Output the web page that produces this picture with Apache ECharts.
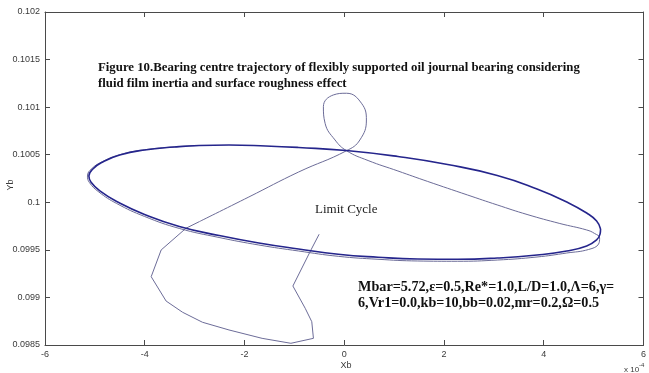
<!DOCTYPE html>
<html>
<head>
<meta charset="utf-8">
<script src="https://cdn.jsdelivr.net/npm/echarts@6/dist/echarts.min.js"></script>
<style>
  html, body { margin: 0; padding: 0; background: #ffffff; }
  #chart { width: 649px; height: 373px; }
</style>
</head>
<body>
<div id="chart"></div>
<script>
// Axis ticks (Xb in units of 1e-4)
const xTickValues = [-6, -4, -2, 0, 2, 4, 6];
const yTickLabels = ['0.0985', '0.099', '0.0995', '0.1', '0.1005', '0.101', '0.1015', '0.102'];

// Converged orbit (limit cycle) of the bearing centre
const cycleX = [5.139, 5.130, 5.060, 4.861, 4.462, 3.865, 3.068, 2.271, 1.474, 0.677, -0.120,
  -0.916, -1.713, -2.510, -3.307, -4.004, -4.542, -4.900, -5.080, -5.120, -5.040, -4.841, -4.502,
  -4.004, -3.406, -2.908, -2.311, -1.574, -0.916, 0.040, 1.076, 2.072, 3.068, 3.865, 4.462,
  4.861, 5.060, 5.139];
const cycleY = [0.099719, 0.099667, 0.099604, 0.099541, 0.099488, 0.099446, 0.099414, 0.099401,
  0.099404, 0.099422, 0.099453, 0.099509, 0.099572, 0.099651, 0.099746, 0.099872, 0.100003,
  0.100119, 0.100213, 0.100276, 0.100350, 0.100424, 0.100497, 0.100550, 0.100581, 0.100597,
  0.100602, 0.100592, 0.100576, 0.100544, 0.100481, 0.100397, 0.100282, 0.100140, 0.100003,
  0.099887, 0.099803, 0.099719];

// Transient path from the initial position until it settles on the orbit
const pathX = [-0.504, -0.667, -1.030, -0.783, -0.651, -0.618, -1.070, -1.647, -2.311, -2.843,
  -3.241, -3.572, -3.871, -3.671, -3.173, -2.908, -1.912, -0.916, 0.046, 0.313, 0.444, 0.345,
  0.046, -0.219, -0.418, -0.384, -0.185, 0.046, 0.478, 1.076, 1.673, 2.470, 3.068, 3.665, 4.323,
  4.861, 5.020, 5.120, 5.100, 4.900, 4.462, 3.865, 3.068, 2.271, 1.474, 0.677, -0.120, -0.916,
  -1.713, -2.510, -3.307, -4.004, -4.562, -4.920, -5.110, -5.149, -5.060, -4.841, -4.502, -4.004,
  -3.406, -2.908];
const pathY = [0.099664, 0.099499, 0.099120, 0.098886, 0.098745, 0.098570, 0.098518, 0.098570,
  0.098658, 0.098739, 0.098844, 0.098962, 0.099218, 0.099499, 0.099727, 0.099796, 0.100056,
  0.100318, 0.100542, 0.100655, 0.100865, 0.101041, 0.101146, 0.101128, 0.101005, 0.100830,
  0.100655, 0.100542, 0.100439, 0.100329, 0.100219, 0.100077, 0.099972, 0.099872, 0.099777,
  0.099709, 0.099672, 0.099625, 0.099562, 0.099504, 0.099467, 0.099425, 0.099393, 0.099380,
  0.099383, 0.099401, 0.099432, 0.099488, 0.099551, 0.099630, 0.099725, 0.099851, 0.099987,
  0.100108, 0.100208, 0.100276, 0.100355, 0.100429, 0.100500, 0.100552, 0.100582, 0.100597];

// The early part of the transient is coarsely sampled (straight segments)
const coarseEnd = 15;

const zip = (xs, ys) => xs.map((x, i) => [x, ys[i]]);
const cycleData = zip(cycleX, cycleY);
const pathData = zip(pathX, pathY);

const axisColor = '#4a4a4a';
const labelColor = '#3a3a3a';
const sansFont = '"Liberation Sans", Arial, sans-serif';
const serifFont = '"Liberation Serif", "Times New Roman", serif';

const chart = echarts.init(document.getElementById('chart'), null, { renderer: 'canvas' });

const xBase = {
  type: 'value', min: -6, max: 6, interval: 2,
  splitLine: { show: false },
  axisLine: { show: true, onZero: false, lineStyle: { color: axisColor, width: 1 } },
  axisTick: { show: true, inside: true, length: 5, lineStyle: { color: axisColor } }
};
const yBase = {
  type: 'value', min: 0.0985, max: 0.102, interval: 0.0005,
  splitLine: { show: false },
  axisLine: { show: true, onZero: false, lineStyle: { color: axisColor, width: 1 } },
  axisTick: { show: true, inside: true, length: 5, lineStyle: { color: axisColor } }
};

chart.setOption({
  animation: false,
  backgroundColor: '#ffffff',
  grid: { left: 45, right: 2, top: 12, bottom: 28 },
  xAxis: [
    Object.assign({}, xBase, {
      position: 'bottom',
      axisLabel: {
        color: labelColor, fontSize: 9, fontFamily: sansFont, margin: 5,
        formatter: v => (xTickValues.indexOf(Math.round(v)) >= 0 ? String(Math.round(v)) : '')
      }
    }),
    Object.assign({}, xBase, { position: 'top', axisLabel: { show: false } })
  ],
  yAxis: [
    Object.assign({}, yBase, {
      position: 'left',
      axisLabel: {
        color: labelColor, fontSize: 9, fontFamily: sansFont, margin: 5,
        formatter: v => yTickLabels[Math.round((v - 0.0985) / 0.0005)] || ''
      }
    }),
    Object.assign({}, yBase, { position: 'right', axisLabel: { show: false } })
  ],
  series: [
    {
      type: 'line', name: 'transient-coarse', data: pathData.slice(0, coarseEnd + 1),
      showSymbol: false, smooth: false,
      lineStyle: { color: '#6c6c98', width: 1 }
    },
    {
      type: 'line', name: 'transient', data: pathData.slice(coarseEnd),
      showSymbol: false, smooth: 0.45,
      lineStyle: { color: '#6c6c98', width: 1 }
    },
    {
      type: 'line', name: 'limit cycle', data: cycleData,
      showSymbol: false, smooth: 0.5,
      lineStyle: { color: '#25258c', width: 1.6 }
    }
  ],
  graphic: [
    {
      type: 'text', left: 98, top: 60,
      style: {
        text: 'Figure 10.Bearing centre trajectory of flexibly supported oil journal bearing considering\nfluid film inertia and surface roughness effect',
        font: 'bold 12.8px ' + serifFont, fill: '#111111', lineHeight: 16
      }
    },
    {
      type: 'text', left: 315, top: 202,
      style: { text: 'Limit Cycle', font: '13px ' + serifFont, fill: '#222222', lineHeight: 16 }
    },
    {
      type: 'text', left: 358, top: 279,
      style: {
        text: 'Mbar=5.72,\u03b5=0.5,Re*=1.0,L/D=1.0,\u039b=6,\u03b3=\n6,Vr1=0.0,kb=10,bb=0.02,mr=0.2,\u03a9=0.5',
        font: 'bold 14.2px ' + serifFont, fill: '#111111', lineHeight: 16
      }
    },
    {
      type: 'text', x: 346, y: 366,
      style: { text: 'Xb', font: '9px ' + sansFont, fill: labelColor, align: 'center', verticalAlign: 'middle' }
    },
    {
      type: 'text', x: 11, y: 185, rotation: Math.PI / 2,
      style: { text: 'Yb', font: '9px ' + sansFont, fill: labelColor, align: 'center', verticalAlign: 'middle' }
    },
    {
      type: 'text', left: 624, top: 362,
      style: {
        text: '{b|x 10}{s|-4}',
        rich: {
          b: { font: '8px ' + sansFont, fill: labelColor, padding: [5, 0, 0, 0] },
          s: { font: '6px ' + sansFont, fill: labelColor, padding: [0, 0, 4, 0] }
        }
      }
    }
  ]
});
</script>
</body>
</html>
